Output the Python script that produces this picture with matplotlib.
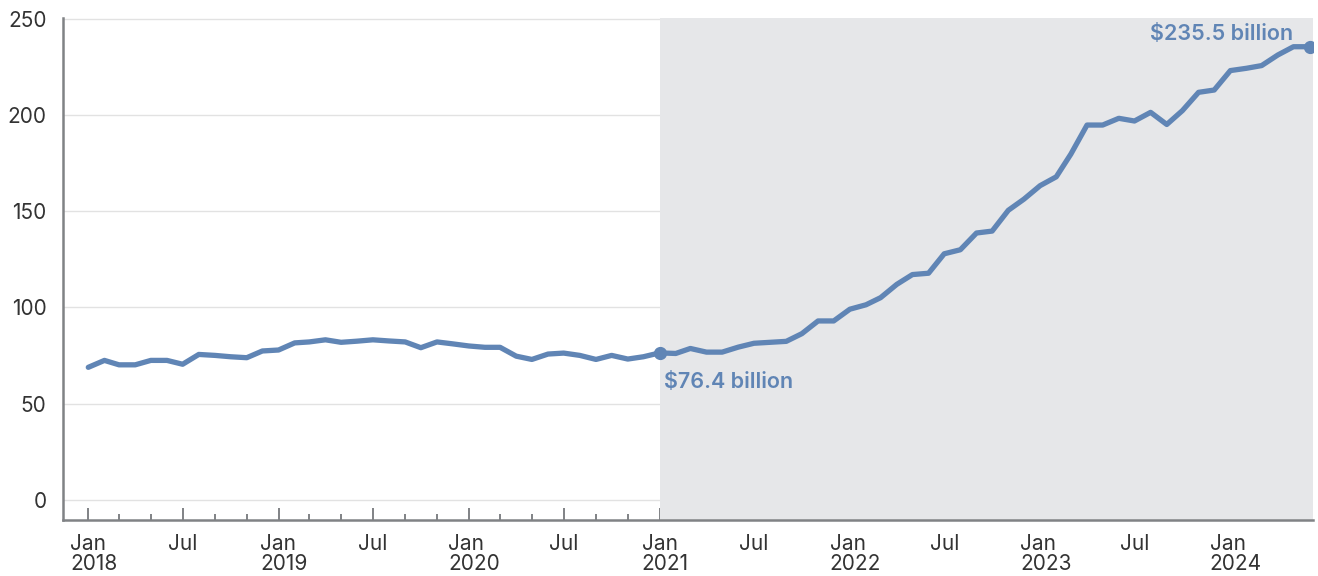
import matplotlib
matplotlib.use("Agg")
import matplotlib.pyplot as plt
import matplotlib.transforms as mtransforms
import pandas as pd

plt.rcParams["font.family"] = ["Inter", "DejaVu Sans"]

# monthly totals, Jan 2018 - Jun 2024 (billions of dollars)
start_month = "2018-01-01"
values = [
    68.9, 72.5, 70.2, 70.2, 72.5, 72.5, 70.5, 75.6, 75.1, 74.4, 73.9, 77.4,
    77.9, 81.6, 82.1, 83.2, 81.9, 82.5, 83.2, 82.6, 82.1, 79.1, 82.1, 81.1,
    80.0, 79.3, 79.3, 74.7, 73.0, 75.8, 76.3, 75.1, 73.0, 75.1, 73.2, 74.4,
    76.4, 76.1, 78.7, 76.8, 76.8, 79.4, 81.4, 81.9, 82.4, 86.4, 93.0, 93.0,
    99.1, 101.4, 105.1, 112.0, 117.1, 117.8, 127.9, 130.0, 138.7, 139.7, 150.5, 156.3,
    163.3, 167.9, 179.7, 194.8, 194.8, 198.3, 196.9, 201.4, 195.1, 202.3, 211.8, 213.0,
    223.1, 224.3, 225.7, 231.2, 235.5, 235.5,
]
shade_start = "2021-01-01"
yticks = [0, 50, 100, 150, 200, 250]

months = pd.date_range(start_month, periods=len(values), freq="MS")
series = pd.Series(values, index=months)

blue = "#6085b5"
axis_gray = "#808285"
text_gray = "#333333"

fig = plt.figure(figsize=(13.18, 5.76), dpi=100)
ax = fig.add_axes([0.048, 0.097, 0.948, 0.872])

shade_x = pd.Timestamp(shade_start)
ax.axvspan(shade_x, months[-1] + pd.Timedelta(days=10), color="#e6e7e9", zorder=1, lw=0)

ax.plot(series.index, series.values, color=blue, lw=3.8, solid_joinstyle="round",
        solid_capstyle="round", zorder=3)

# end points with value labels
first = series[shade_x]
last = series.iloc[-1]
ax.plot([shade_x, series.index[-1]], [first, last], "o", color=blue, ms=8.5, zorder=4)
ax.annotate(f"\\${first:.1f} billion", xy=(shade_x, first), xytext=(3, -14),
            textcoords="offset points", ha="left", va="top", color=blue,
            fontsize=15.5, fontweight="semibold")
ax.annotate(f"\\${last:.1f} billion", xy=(series.index[-1], last), xytext=(-12, 2),
            textcoords="offset points", ha="right", va="bottom", color=blue,
            fontsize=15.5, fontweight="semibold")

ax.set_xlim(months[0] - pd.Timedelta(days=48), months[-1] + pd.Timedelta(days=6))
ax.set_ylim(-10.5, 250.5)

ax.set_yticks(yticks)
ax.set_yticklabels([str(v) for v in yticks], fontsize=15, color=text_gray)
ax.yaxis.grid(True, color="#e2e2e2", lw=1, zorder=0)
ax.set_axisbelow(True)
ax.tick_params(axis="y", length=0, pad=12)

major = [m for m in months if m.month in (1, 7)]
minor = [m for m in months if m.month in (3, 5, 9, 11)]
ax.set_xticks(major)
ax.set_xticks(minor, minor=True)
ax.set_xticklabels([f"Jan\n{m.year}" if m.month == 1 else "Jul" for m in major],
                   fontsize=15, color=text_gray, multialignment="left", linespacing=1.0)
ax.tick_params(axis="x", which="major", direction="in", length=8.5, width=1.4,
               color=axis_gray, pad=10)
ax.tick_params(axis="x", which="minor", direction="in", length=4.5, width=1.4,
               color=axis_gray)

# nudge the two-line January labels so "Jan" sits over its tick
shift = mtransforms.ScaledTranslation(4 / 72, 0, fig.dpi_scale_trans)
for lab in ax.get_xticklabels():
    if "\n" in lab.get_text():
        lab.set_transform(lab.get_transform() + shift)

for side in ("top", "right"):
    ax.spines[side].set_visible(False)
for side in ("left", "bottom"):
    ax.spines[side].set_color(axis_gray)
    ax.spines[side].set_linewidth(1.8)
    ax.spines[side].set_zorder(5)

fig.savefig("out.png", dpi=100)
